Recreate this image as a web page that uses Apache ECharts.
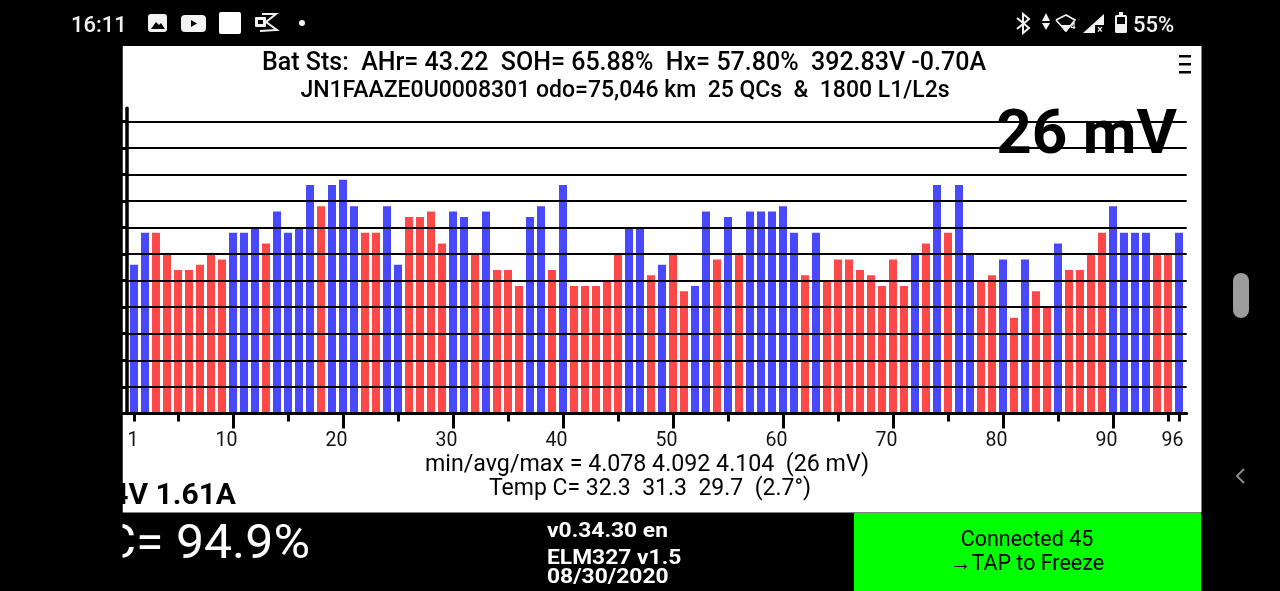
<!DOCTYPE html>
<html><head><meta charset="utf-8">
<style>html,body{margin:0;padding:0;background:#000}#c{width:1280px;height:591px}</style>
<script src="https://cdn.jsdelivr.net/npm/echarts@6/dist/echarts.min.js"></script>
</head><body><div id="c"></div>
<script>
const cellVolts = [
4.088,4.094,4.094,4.090,4.087,4.087,4.088,4.090,4.089,4.094,4.094,4.095,
4.092,4.098,4.094,4.095,4.103,4.099,4.103,4.104,4.099,4.094,4.094,4.099,
4.088,4.097,4.097,4.098,4.092,4.098,4.097,4.090,4.098,4.087,4.087,4.084,
4.097,4.099,4.087,4.103,4.084,4.084,4.084,4.085,4.090,4.095,4.095,4.086,
4.088,4.090,4.083,4.084,4.098,4.089,4.097,4.090,4.098,4.098,4.098,4.099,
4.094,4.086,4.094,4.085,4.089,4.089,4.087,4.086,4.084,4.089,4.084,4.090,
4.092,4.103,4.094,4.103,4.090,4.085,4.086,4.089,4.078,4.089,4.083,4.080,
4.092,4.087,4.087,4.090,4.094,4.099,4.094,4.094,4.094,4.090,4.090,4.094];
const cellGroup = ("BBRRRRRRRB"+"BBRBBBBRBB"+"BRRBBRRRRB"+"BRBRRRBBRB"+"RRRRRBBRBR"+
  "RBBRBRBBBB"+"BRBRRRRRRR"+"RBRBRBBRRB"+"RBRRBRRRRB"+"BBBRRB").split("");
const shortTicks = [1,5,15,25,35,45,55,65,75,85,95,96];
const longTicks = [10,20,30,40,50,60,70,80,90];
const xLabels = [1,10,20,30,40,50,60,70,80,90,96];
const header1 = "Bat Sts:  AHr= 43.22  SOH= 65.88%  Hx= 57.80%  392.83V -0.70A";
const header2 = "JN1FAAZE0U0008301 odo=75,046 km  25 QCs  &  1800 L1/L2s";
const bigDelta = "26 mV";
const stats1 = "min/avg/max = 4.078 4.092 4.104  (26 mV)";
const stats2 = "Temp C= 32.3  31.3  29.7  (2.7°)";
const packText = "4V 1.61A";
const socText = "C= 94.9%";
const versionLines = ["v0.34.30 en","ELM327 v1.5","08/30/2020"];
const buttonLines = ["Connected 45","→TAP to Freeze"];
const clockText = "16:11";
const batteryText = "55%";

const F = 'Roboto, sans-serif';
const T = (text,x,y,font,fill,align,sx,sy,z)=>({type:'text',x,y,scaleX:sx||1,scaleY:sy||1,z:z||10,silent:true,
  style:{text,font,fill:fill||'#000',textAlign:align||'center',textVerticalAlign:'middle'}});
const R = (x,y,w,h,fill,z,r)=>({type:'rect',z:z===undefined?10:z,silent:true,shape:{x,y,width:w,height:h,r:r||0},style:{fill}});
const P = (pts,fill,z)=>({type:'polygon',z:z||11,silent:true,shape:{points:pts},style:{fill}});
const L = (pts,stroke,w,z)=>({type:'polyline',z:z||11,silent:true,shape:{points:pts},style:{stroke,lineWidth:w,fill:null}});
const W='#f2f2f2';

const elements = [
  R(122.5,46,1079,466.5,'#fff',-1),
  R(854,513,347,78,'#00ff00',-1),
  T(header1,624,63.5,'500 25px '+F),
  T(header2,625,91.5,'500 23px '+F),
  T(bigDelta,1177,137,'bold 62px '+F,'#000','right',1,1,12),
  R(1179,55,12,2.5,'#000'),R(1179,63,12,2.5,'#000'),R(1179,71,12,2.5,'#000'),
  T(stats1,647,465,'400 23.2px '+F),
  T(stats2,650,489,'400 23px '+F),
  T(packText,236,496,'bold 30px '+F,'#000','right'),
  T(socText,310,546,'400 50px '+F,'#fff','right',1,0.95),
  R(0,46,122.5,545,'#000',13),
  T(versionLines[0],547,532,'bold 20px '+F,'#fff','left',1.14,1,14),
  T(versionLines[1],547,559,'bold 20px '+F,'#fff','left',1.14,1,14),
  T(versionLines[2],547,578,'bold 20px '+F,'#fff','left',1.14,1,14),
  T(buttonLines[0],1027,541,'400 21.5px '+F),
  T(buttonLines[1],1027,565,'400 21.5px '+F),
  T(clockText,71,26,'500 22px '+F,W,'left'),
  T(batteryText,1133,26,'500 22px '+F,W,'left'),
  // status icons
  R(148,14,19,18,W,10,3),P([[151,29],[156,22],[159,25],[161,23],[165,29]],'#000'),
  R(181,15,25,17,W,10,4),P([[191,20],[197,23.5],[191,27]],'#000'),
  R(219,12,22,22,'#fff',10,2),
  R(255,17,11,10,W,10,1),R(258,20,5,4,'#000',11),
  L([[262,14],[276,14],[266,22],[277,30],[260,31]],W,2),
  {type:'circle',z:10,silent:true,shape:{cx:302,cy:23,r:3},style:{fill:W}},
  L([[1017,18],[1029,28],[1023,33],[1023,14],[1029,19],[1017,29]],W,2),
  P([[1046,13],[1050,21],[1042,21]],W),P([[1042,23],[1050,23],[1046,30]],W),
  L([[1056,20],[1066,15],[1075,20],[1066,31],[1056,20]],W,1.6),
  P([[1060,25],[1071,25],[1065.5,32]],W),
  T('4',1073,27,'500 9px '+F,W,'center'),
  P([[1083,33],[1104,14],[1104,33]],W),R(1095,25,9,8,'#000',12),
  T('×',1100,30,'bold 10px '+F,W,'center',1,1,13),
  R(1115,15,12,18,W,10,1.5),R(1119,12,4,3,W),R(1117,17,8,7,'#000',11),
  // system nav bar
  R(1233,273,16,45,'#9c9c9c',10,8),
  L([[1244,469],[1237,476],[1244,483]],'#8a8a8a',2)
];

const chart = echarts.init(document.getElementById('c'),null,{renderer:'canvas'});
chart.setOption({
  animation:false,
  backgroundColor:'#000',
  graphic:{elements},
  grid:[
    {left:127,right:93.3,top:121.3,bottom:177.6,containLabel:false},
    {left:127,right:93.3,top:108.3,bottom:177.6,containLabel:false}
  ],
  xAxis:[{
    type:'value',gridIndex:0,min:0.3636,max:96.7,position:'bottom',splitLine:{show:false},z:5,
    axisLine:{show:true,onZero:false,lineStyle:{color:'#000',width:3}},
    axisTick:{show:true,customValues:shortTicks,length:8,lineStyle:{color:'#000',width:3}},
    axisLabel:{show:true,customValues:xLabels.map(v=>v+0.4),hideOverlap:false,showMinLabel:true,showMaxLabel:true,
      align:'right',margin:18,color:'#111',fontFamily:'Roboto',fontSize:19.5,
      formatter:v=>String(Math.round(v))}
  },{
    type:'value',gridIndex:0,min:0.3636,max:96.7,position:'bottom',splitLine:{show:false},z:5,
    axisLine:{show:false},
    axisTick:{show:true,customValues:longTicks,length:15,lineStyle:{color:'#000',width:3}},
    axisLabel:{show:false}
  },{
    type:'value',gridIndex:1,min:0,max:1,show:false
  }],
  yAxis:[{
    type:'value',gridIndex:0,min:4.06,max:4.115,interval:0.005,z:5,
    axisLine:{show:false},
    axisTick:{show:true,length:5,lineStyle:{color:'#000',width:3}},
    axisLabel:{show:false},
    splitLine:{show:true,lineStyle:{color:'#000',width:1.8,type:'solid'}}
  },{
    type:'value',gridIndex:1,min:0,max:1,interval:1,z:6,
    axisLine:{show:true,onZero:false,lineStyle:{color:'#000',width:3.5}},
    axisTick:{show:false},axisLabel:{show:false},splitLine:{show:false}
  }],
  series:[{
    type:'bar',xAxisIndex:0,yAxisIndex:0,z:1,barWidth:8,silent:true,
    data:cellVolts.map((v,i)=>({value:[i+1,v],itemStyle:{color:cellGroup[i]==='B'?'#4848ff':'#ff4848'}}))
  }]
});
</script></body></html>
